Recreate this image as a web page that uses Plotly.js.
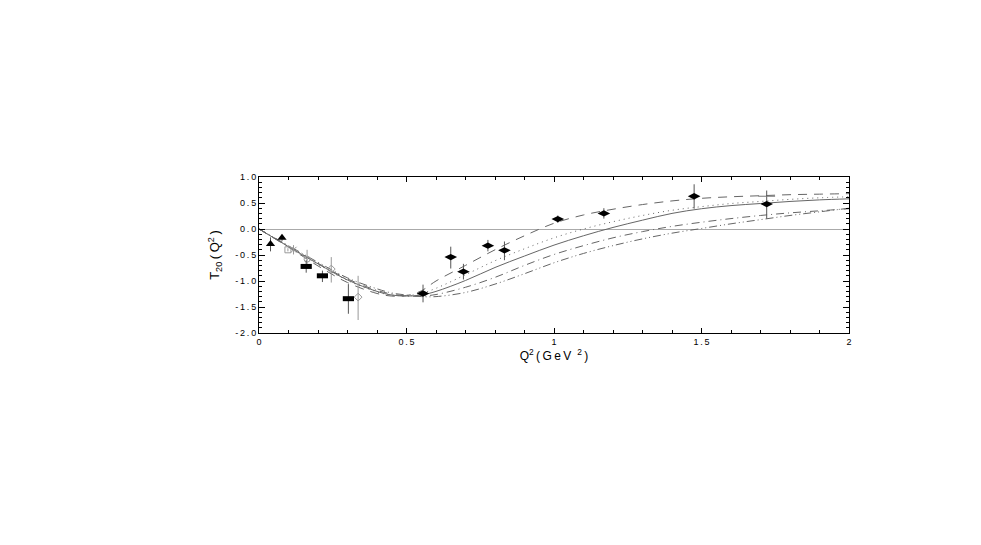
<!DOCTYPE html>
<html>
<head>
<meta charset="utf-8">
<script src="https://cdn.plot.ly/plotly-3.0.1.min.js"></script>
<style>
html,body{margin:0;padding:0;background:#fff;}
#chart{width:981px;height:545px;}
</style>
</head>
<body>
<div id="chart"></div>
<script>
// ---- theory curves (Q^2 in GeV^2, T20) ----
var curveX = [0, 0.1, 0.2, 0.3, 0.4, 0.45, 0.5, 0.55, 0.6, 0.7, 0.8, 0.9, 1.0, 1.1, 1.2, 1.3, 1.4, 1.5, 1.6, 1.7, 1.8, 1.9, 2.0];
var solidY   = [0, -0.34, -0.67, -0.98, -1.20, -1.27, -1.29, -1.27, -1.20, -0.99, -0.74, -0.52, -0.31, -0.13, 0.03, 0.17, 0.30, 0.39, 0.45, 0.49, 0.53, 0.56, 0.58];
var dashedY  = [0, -0.35, -0.71, -1.03, -1.24, -1.29, -1.28, -1.19, -1.00, -0.70, -0.40, -0.13, 0.11, 0.27, 0.38, 0.47, 0.54, 0.59, 0.62, 0.64, 0.66, 0.67, 0.68];
var dottedY  = [0, -0.34, -0.68, -0.99, -1.21, -1.27, -1.28, -1.24, -1.14, -0.88, -0.61, -0.38, -0.17, 0.00, 0.14, 0.26, 0.36, 0.43, 0.49, 0.53, 0.57, 0.60, 0.62];
var dashDotY = [0, -0.33, -0.66, -0.96, -1.18, -1.25, -1.29, -1.29, -1.26, -1.12, -0.93, -0.70, -0.49, -0.32, -0.17, -0.05, 0.05, 0.13, 0.20, 0.26, 0.31, 0.35, 0.39];
var dashDot2Y= [0, -0.32, -0.64, -0.94, -1.15, -1.23, -1.27, -1.30, -1.30, -1.22, -1.06, -0.86, -0.65, -0.47, -0.32, -0.19, -0.08, 0.01, 0.10, 0.18, 0.26, 0.33, 0.40];

// ---- data ----
var triX = [0.039, 0.078];
var triY = [-0.29, -0.17];
var triErrP = [0.13, 0.06];
var triErrM = [0.14, 0.06];

var rectX = [0.160, 0.215, 0.303];
var rectY = [-0.72, -0.90, -1.34];
var rectErrP = [0.12, 0.10, 0.28];
var rectErrM = [0.12, 0.12, 0.29];

var openX = [0.098, 0.117, 0.163, 0.245, 0.336];
var openY = [-0.40, -0.40, -0.58, -0.77, -1.31];
var openErrP = [0.03, 0.09, 0.18, 0.23, 0.41];
var openErrM = [0.03, 0.09, 0.18, 0.26, 0.44];

var diaX = [0.556, 0.650, 0.693, 0.776, 0.832, 1.013, 1.169, 1.475, 1.721];
var diaY = [-1.24, -0.54, -0.82, -0.32, -0.41, 0.19, 0.30, 0.63, 0.48];
var diaErrP = [0.17, 0.20, 0.15, 0.11, 0.17, 0.07, 0.10, 0.23, 0.26];
var diaErrM = [0.17, 0.22, 0.15, 0.11, 0.19, 0.07, 0.10, 0.24, 0.28];

var tickX = [1.721];
var tickY = [0.63];

var xTickVals = [0, 0.5, 1, 1.5, 2];
var xTickLabels = ['0', '0.5', '1', '1.5', '2'];
var yTickVals = [-2, -1.5, -1, -0.5, 0, 0.5, 1];
var yTickLabels = ['-2.0', '-1.5', '-1.0', '-0.5', '0.0', '0.5', '1.0'];

function spaced(s){ return s.split('').join('\u2009'); }

var lineCol = '#666';
function curve(y, dash){
  return {x: curveX, y: y, mode: 'lines', type: 'scatter', line: {color: lineCol, width: 1, dash: dash, shape: 'spline'}, hoverinfo: 'skip', showlegend: false};
}

var traces = [
  curve(solidY, 'solid'),
  curve(dashedY, '9px,7px'),
  curve(dottedY, '1px,4px'),
  curve(dashDotY, '8px,4px,1px,4px'),
  curve(dashDot2Y, '8px,3px,1px,3px,1px,3px'),
  {x: openX, y: openY, mode: 'markers', type: 'scatter',
   marker: {symbol: ['square-open','x-thin-open','circle-open','diamond-open','diamond-open'], size: 6, color: '#999', line: {color: '#999', width: 1}},
   error_y: {type: 'data', symmetric: false, array: openErrP, arrayminus: openErrM, color: '#999', thickness: 1, width: 0}, showlegend: false},
  {x: triX, y: triY, mode: 'markers', type: 'scatter',
   marker: {symbol: 'triangle-up', size: 8, color: '#000'},
   error_y: {type: 'data', symmetric: false, array: triErrP, arrayminus: triErrM, color: '#555', thickness: 1, width: 0}, showlegend: false},
  {x: rectX, y: rectY, mode: 'markers', type: 'scatter',
   marker: {symbol: 'line-ew', size: 8, color: '#000', line: {color: '#000', width: 5}},
   error_y: {type: 'data', symmetric: false, array: rectErrP, arrayminus: rectErrM, color: '#555', thickness: 1, width: 0}, showlegend: false},
  {x: diaX, y: diaY, mode: 'markers', type: 'scatter',
   marker: {symbol: 'diamond-wide', size: 9, color: '#000'},
   error_y: {type: 'data', symmetric: false, array: diaErrP, arrayminus: diaErrM, color: '#555', thickness: 1, width: 0}, showlegend: false},
  {x: tickX, y: tickY, mode: 'markers', type: 'scatter',
   marker: {symbol: 'line-ew', size: 12, color: '#777', line: {color: '#777', width: 1}}, showlegend: false}
];

var tickFont = {family: 'Liberation Sans, Arial, sans-serif', size: 9, color: '#000'};

var layout = {
  width: 981, height: 545,
  margin: {l: 259, r: 132, t: 177, b: 212, pad: 0},
  paper_bgcolor: '#fff', plot_bgcolor: '#fff',
  showlegend: false,
  xaxis: {
    range: [0, 2], tickvals: xTickVals, ticktext: xTickLabels.map(spaced),
    ticks: 'inside', ticklen: 5, tickcolor: '#000', tickwidth: 1,
    minor: {dtick: 0.1, ticks: 'inside', ticklen: 3, tickcolor: '#000', showgrid: false},
    showline: true, linecolor: '#000', linewidth: 1, mirror: 'ticks',
    showgrid: false, zeroline: false, tickfont: tickFont,
    title: {text: 'Q<sup>2</sup>\u2009(\u2009G\u2009e\u2009V\u2002<sup>2</sup>\u2009)', font: {family: 'Liberation Sans, Arial, sans-serif', size: 12, color: '#000'}, standoff: 5}
  },
  yaxis: {
    range: [-2, 1], tickvals: yTickVals, ticktext: yTickLabels.map(spaced),
    ticks: 'inside', ticklen: 6, tickcolor: '#000', tickwidth: 1,
    minor: {dtick: 0.1, ticks: 'inside', ticklen: 3, tickcolor: '#000', showgrid: false},
    showline: true, linecolor: '#000', linewidth: 1, mirror: 'ticks',
    showgrid: false, zeroline: true, zerolinecolor: '#aaa', zerolinewidth: 1,
    tickfont: tickFont,
    title: {text: 'T<sub>20</sub>\u2009(\u2009Q<sup>2</sup>\u2009)', font: {family: 'Liberation Sans, Arial, sans-serif', size: 13, color: '#000'}, standoff: 12}
  }
};

Plotly.newPlot('chart', traces, layout, {displayModeBar: false, staticPlot: true});
</script>
</body>
</html>
